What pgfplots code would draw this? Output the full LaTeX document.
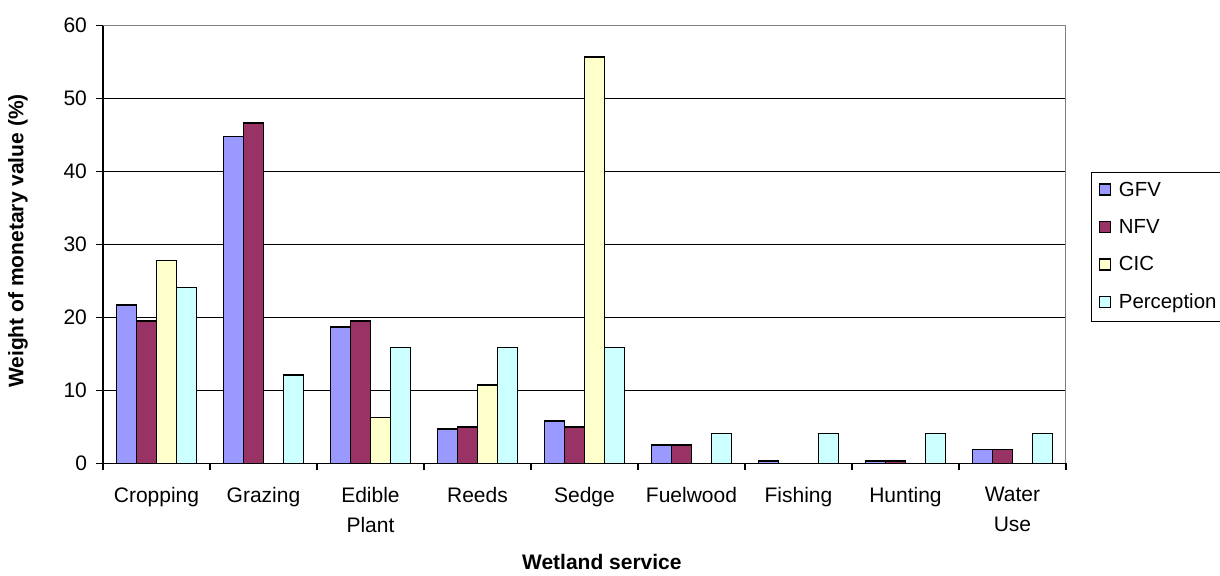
\documentclass[border=0pt]{standalone}
\usepackage{pgfplots}
\pgfplotsset{compat=1.18}
\usepackage{fontspec}
\setmainfont{Liberation Sans}

\definecolor{gfv}{HTML}{9999FF}
\definecolor{nfv}{HTML}{993366}
\definecolor{cic}{HTML}{FFFFCC}
\definecolor{perc}{HTML}{CCFFFF}

\begin{document}
\begin{tikzpicture}
\useasboundingbox (-51.5pt,-55.85pt) rectangle (558.5pt,231.65pt);
\clip (-51.5pt,-55.85pt) rectangle (558.5pt,231.65pt);
\begin{axis}[
  at={(0,0)}, anchor=south west,
  scale only axis,
  width=481.5pt, height=218.8pt,
  font=\fontsize{10.5}{12.5}\selectfont,
  /pgf/number format/assume math mode=true,
  ybar=0pt, bar width=0.187,
  xmin=-0.5, xmax=8.5,
  ymin=0, ymax=60,
  ytick={0,10,...,60},
  xtick={-0.5,0.5,...,8.5},
  xticklabels={Cropping,Grazing,{Edible\\[2.5pt]Plant},Reeds,Sedge,Fuelwood,Fishing,Hunting,{Water\\[2.5pt]Use},{}},
  xticklabel style={align=center, anchor=north, xshift=26.75pt, yshift=-5pt},
  yticklabel style={xshift=-1pt},
  axis lines*=left,
  axis line style={black, line width=0.6pt},
  tick align=outside,
  major tick length=3.5pt,
  tick style={black, line width=0.6pt},
  ymajorgrids,
  major grid style={black, line width=0.5pt},
  xlabel={\textbf{Wetland service}},
  xlabel style={at={(axis description cs:0.518,-0.226)}, anchor=center},
  ylabel={\textbf{Weight of monetary value (\%)}},
  ylabel style={at={(axis description cs:-0.0883,0.508)}, anchor=center, rotate=0},
  legend style={at={(1.026,0.666)}, anchor=north west, draw=black, line width=0.5pt,
    inner xsep=3.5pt, inner ysep=4.5pt, row sep=9.3pt, column sep=4pt,
    nodes={inner sep=0pt, text height=7.4pt, text depth=2pt, anchor=west},
    font=\fontsize{10.2}{12}\selectfont},
  legend cell align=left,
  legend image code/.code={\draw[#1, draw=black, line width=0.7pt] (0pt,-2.2pt) rectangle (5.5pt,3.3pt);},
]
\addplot[draw=black, line width=0.8pt, fill=gfv] coordinates {(0,21.7) (1,44.8) (2,18.7) (3,4.7) (4,5.8) (5,2.5) (6,0.3) (7,0.3) (8,1.9)};
\addplot[draw=black, line width=0.8pt, fill=nfv] coordinates {(0,19.5) (1,46.7) (2,19.5) (3,5.0) (4,5.0) (5,2.5) (7,0.3) (8,1.9)};
\addplot[draw=black, line width=0.8pt, fill=cic] coordinates {(0,27.8) (2,6.3) (3,10.7) (4,55.7)};
\addplot[draw=black, line width=0.8pt, fill=perc] coordinates {(0,24.1) (1,12.1) (2,15.9) (3,15.9) (4,15.9) (5,4.1) (6,4.1) (7,4.1) (8,4.1)};
\legend{GFV,NFV,CIC,Perception}
\draw[gray, line width=0.7pt] (rel axis cs:0,1) -- (rel axis cs:1,1) -- (rel axis cs:1,0);
\end{axis}
\end{tikzpicture}
\end{document}
